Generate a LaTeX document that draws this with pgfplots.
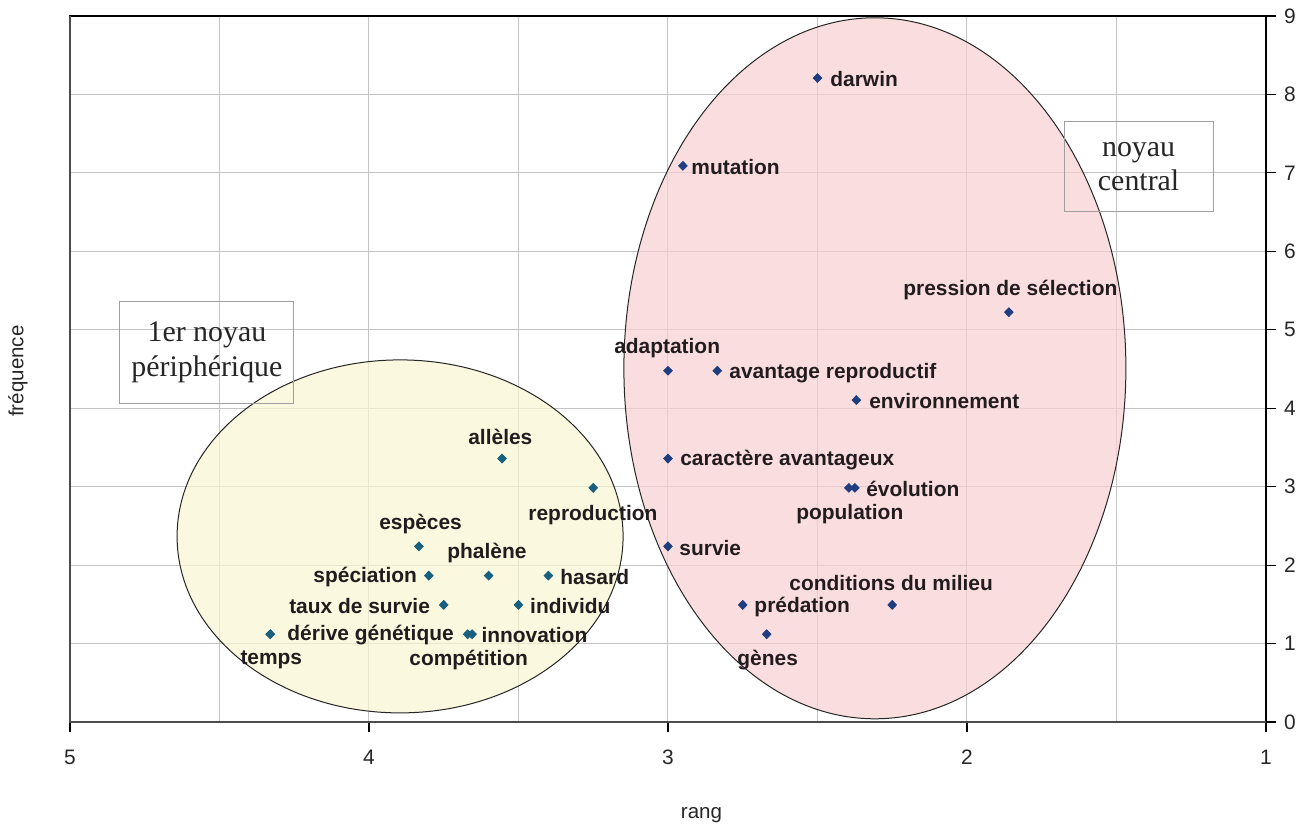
\documentclass[border=0pt]{standalone}
\usepackage{fontspec}
\setmainfont{Liberation Sans}
\newfontfamily\serif{Liberation Serif}
\usepackage{pgfplots}
\pgfplotsset{compat=1.18}

\definecolor{pinkfill}{RGB}{248,208,210}
\definecolor{yellowfill}{RGB}{248,245,208}
\definecolor{ptblue}{RGB}{30,62,128}
\definecolor{ptteal}{RGB}{24,96,128}
\definecolor{gridgray}{RGB}{196,196,196}
\definecolor{lbltext}{RGB}{35,28,30}

\begin{document}
\begin{tikzpicture}[
  lbl/.style={font=\fontsize{10.5}{12}\selectfont\bfseries, text=lbltext, inner sep=0pt, anchor=west},
  nbox/.style={draw=gray!75, line width=0.5bp, align=center, inner sep=0pt,
    font=\serif\fontsize{15}{17.5}\selectfont, text=black!85},
]
\begin{axis}[
  width=598bp, height=353bp, scale only axis,
  xmin=1, xmax=5, ymin=0, ymax=9, x dir=reverse,
  xtick={1,2,3,4,5}, ytick={0,1,...,9},
  minor x tick num=1,
  xmajorgrids, xminorgrids, ymajorgrids,
  grid style={gridgray, line width=0.5bp},
  minor tick length=0pt, major tick length=5bp,
  tick align=outside,
  xtick pos=bottom, ytick pos=right, yticklabel pos=right,
  tick style={black, line width=0.6bp},
  axis line style={black, line width=0.6bp},
  /pgf/number format/assume math mode=true,
  ticklabel style={font=\fontsize{10.5}{12}\selectfont, text=black!85},
  xticklabel style={yshift=-5.5bp},
  yticklabel style={xshift=0.5bp},
  xlabel={rang}, ylabel={fréquence},
  label style={font=\fontsize{10.3}{12}\selectfont, text=black!85},
  xlabel style={at={(axis description cs:0.528,0)}, anchor=center, yshift=-46.5bp},
  ylabel style={at={(axis description cs:0,0.497)}, anchor=center, yshift=26bp},
  clip=false,
]
% ellipses (zones)
\draw[black!85, line width=0.5bp, fill=pinkfill, fill opacity=0.7]
  (axis cs:2.308,4.509) ellipse [x radius=125.5bp, y radius=175.25bp];
\draw[black!85, line width=0.5bp, fill=yellowfill, fill opacity=0.7]
  (axis cs:3.896,2.366) ellipse [x radius=111.5bp, y radius=88.25bp];

% noyau central
\addplot[only marks, mark=diamond*, mark size=2.2bp, color=ptblue,
  mark options={xscale=1.3}] coordinates {
  (2.50,8.209) (2.95,7.090) (1.86,5.224) (3.00,4.478) (2.835,4.478)
  (2.37,4.104) (3.00,3.358) (2.395,2.985) (2.375,2.985) (3.00,2.239)
  (2.25,1.493) (2.75,1.493) (2.67,1.119)
};
% 1er noyau peripherique
\addplot[only marks, mark=diamond*, mark size=2.2bp, color=ptteal,
  mark options={xscale=1.3}] coordinates {
  (3.555,3.358) (3.25,2.985) (3.833,2.239) (3.80,1.866) (3.60,1.866)
  (3.40,1.866) (3.75,1.493) (3.50,1.493) (4.33,1.119) (4.33,1.119)
  (3.67,1.119) (3.655,1.119)
};

% labels
\node[lbl] at (axis cs:2.458,8.20) {darwin};
\node[lbl] at (axis cs:2.923,7.08) {mutation};
\node[lbl] at (axis cs:2.214,5.51) {pression de sélection};
\node[lbl] at (axis cs:3.181,4.77) {adaptation};
\node[lbl] at (axis cs:2.796,4.45) {avantage reproductif};
\node[lbl] at (axis cs:2.328,4.09) {environnement};
\node[lbl] at (axis cs:2.960,3.34) {caractère avantageux};
\node[lbl] at (axis cs:2.338,2.97) {évolution};
\node[lbl] at (axis cs:2.572,2.65) {population};
\node[lbl] at (axis cs:2.963,2.22) {survie};
\node[lbl] at (axis cs:2.595,1.77) {conditions du milieu};
\node[lbl] at (axis cs:2.712,1.47) {prédation};
\node[lbl] at (axis cs:2.769,0.79) {gènes};
\node[lbl] at (axis cs:3.669,3.64) {allèles};
\node[lbl] at (axis cs:3.468,2.64) {reproduction};
\node[lbl] at (axis cs:3.967,2.53) {espèces};
\node[lbl] at (axis cs:3.739,2.16) {phalène};
\node[lbl] at (axis cs:4.187,1.85) {spéciation};
\node[lbl] at (axis cs:3.361,1.85) {hasard};
\node[lbl] at (axis cs:4.268,1.48) {taux de survie};
\node[lbl] at (axis cs:3.462,1.48) {individu};
\node[lbl] at (axis cs:4.274,1.11) {dérive génétique};
\node[lbl] at (axis cs:3.625,1.11) {innovation};
\node[lbl] at (axis cs:4.431,0.79) {temps};
\node[lbl] at (axis cs:3.866,0.79) {compétition};

% zone names
\node[nbox, minimum width=74.5bp, minimum height=45bp] at (axis cs:1.426,7.08) {noyau\\central};
\node[nbox, minimum width=87bp, minimum height=51bp] at (axis cs:4.542,4.71) {1er noyau\\périphérique};

% heavier left and bottom frame lines
\draw[black!70, line width=1.2bp] (axis description cs:0,1) -- (axis description cs:0,0) -- (axis description cs:1,0);

\coordinate (sw) at (axis description cs:0,0);
\coordinate (ne) at (axis description cs:1,1);
\end{axis}
\pgfresetboundingbox
\path ([shift={(-35bp,-54bp)}]sw) rectangle ([shift={(23bp,8bp)}]ne);
\end{tikzpicture}
\end{document}
